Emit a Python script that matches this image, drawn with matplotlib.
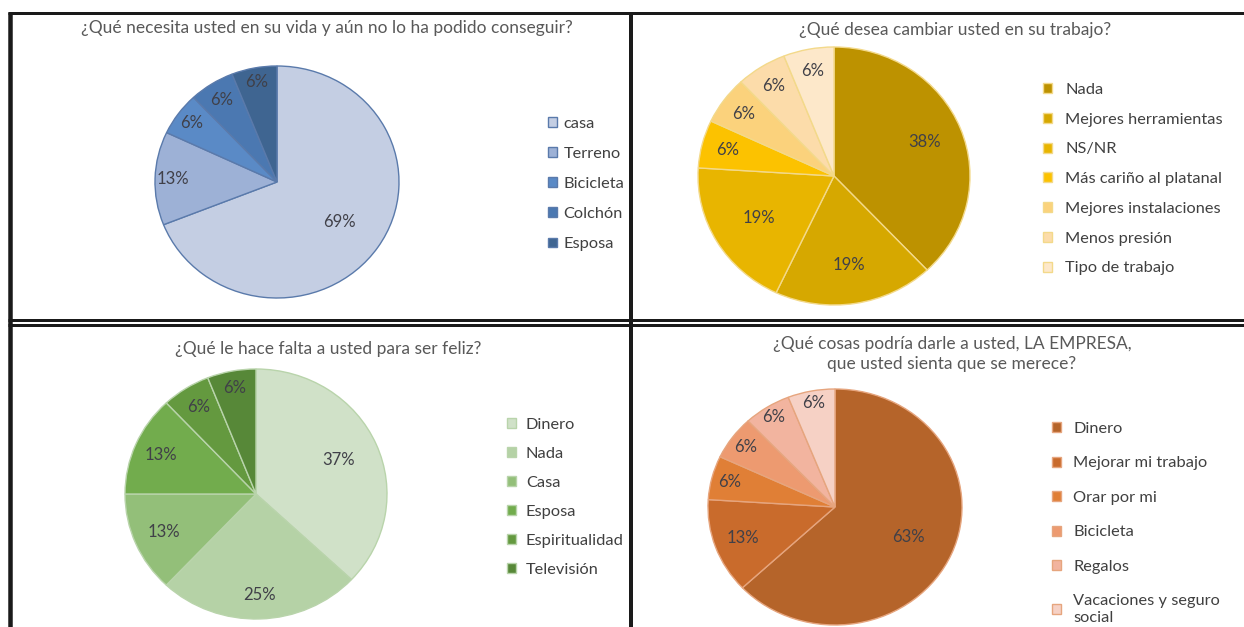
import numpy as np
import matplotlib
matplotlib.use('Agg')
import matplotlib.pyplot as plt
from matplotlib.lines import Line2D

plt.rcParams['font.family'] = ['Lato', 'DejaVu Sans']

W, H = 1244, 627

# --- data (percent of answers) ---
tl_title = "¿Qué necesita usted en su vida y aún no lo ha podido conseguir?"
tl_labels = ["casa", "Terreno", "Bicicleta", "Colchón", "Esposa"]
tl_values = [69, 13, 6, 6, 6]

tr_title = "¿Qué desea cambiar usted en su trabajo?"
tr_labels = ["Nada", "Mejores herramientas", "NS/NR", "Más cariño al platanal",
             "Mejores instalaciones", "Menos presión", "Tipo de trabajo"]
tr_values = [38, 19, 19, 6, 6, 6, 6]

bl_title = "¿Qué le hace falta a usted para ser feliz?"
bl_labels = ["Dinero", "Nada", "Casa", "Esposa", "Espiritualidad", "Televisión"]
bl_values = [37, 25, 13, 13, 6, 6]

br_title = "¿Qué cosas podría darle a usted, LA EMPRESA,\nque usted sienta que se merece?"
br_labels = ["Dinero", "Mejorar mi trabajo", "Orar por mi", "Bicicleta",
             "Regalos", "Vacaciones y seguro\nsocial"]
br_values = [63, 13, 6, 6, 6, 6]

# --- styles ---
tl_colors = ['#c4cee3', '#9db1d6', '#5a8ac6', '#4b78b1', '#3f6591']
tr_colors = ['#bd9200', '#d6a800', '#e8b500', '#fcc200', '#fbd27c', '#fcdcaa', '#fde8ca']
bl_colors = ['#d0e1c8', '#b5d2a6', '#93bf79', '#72ac4d', '#64993f', '#578838']
br_colors = ['#b5642a', '#c96b2c', '#e07f36', '#ed9a70', '#f2b49f', '#f6d1c5']

# distance of the % label from the centre (fraction of radius)
tl_lab_r = [0.62, 0.85, 0.87, 0.84, 0.88]
tr_lab_r = [0.72, 0.70, 0.64, 0.81, 0.82, 0.83, 0.83]
bl_lab_r = [0.69, 0.81, 0.77, 0.79, 0.82, 0.86]
br_lab_r = [0.63, 0.77, 0.86, 0.87, 0.90, 0.90]


def fx(x):
    return x / W


def fy(y):
    return 1 - y / H


fig = plt.figure(figsize=(W / 100, H / 100), dpi=100)


def draw_pie(title, title_xy, labels, values, colors, edge, center, radii,
             lab_r, leg_xy, leg_pad, leg_space):
    cx, cy = center
    rx, ry = radii
    ax = fig.add_axes([fx(cx - rx), fy(cy + ry), 2 * rx / W, 2 * ry / H])
    wedges, _ = ax.pie(values, colors=colors, startangle=90, counterclock=False,
                       wedgeprops=dict(edgecolor=edge, linewidth=1.0))
    ax.set_aspect('auto')
    ax.set_xlim(-1, 1)
    ax.set_ylim(-1, 1)
    for w in wedges:
        w.set_clip_on(False)
    for w, v, r in zip(wedges, values, lab_r):
        a = np.radians((w.theta1 + w.theta2) / 2)
        ax.text(r * np.cos(a), r * np.sin(a), str(v) + '%', ha='center', va='center',
                fontsize=12, color='#404048')
    fig.text(fx(title_xy[0]), fy(title_xy[1]), title, ha='center', va='center',
             fontsize=12.5, color='#595959', linespacing=1.25)
    ax.legend(wedges, labels, loc='upper left',
              bbox_to_anchor=(fx(leg_xy[0]), fy(leg_xy[1])),
              bbox_transform=fig.transFigure, frameon=False, fontsize=11.8,
              handlelength=0.55, handleheight=0.55, handletextpad=leg_pad,
              labelspacing=leg_space, borderpad=0, borderaxespad=0,
              labelcolor='#404040')


draw_pie(tl_title, (327, 28), tl_labels, tl_values, tl_colors, '#5a7aab',
         (277, 182), (122, 116), tl_lab_r, (548, 117), 0.4, 0.98)
draw_pie(tr_title, (955, 30), tr_labels, tr_values, tr_colors, '#f3d98a',
         (834, 176), (136, 129), tr_lab_r, (1043, 83), 0.8, 0.96)
draw_pie(bl_title, (328, 349), bl_labels, bl_values, bl_colors, '#b9d4ab',
         (256, 494), (131, 125), bl_lab_r, (507, 418), 0.6, 0.91)
draw_pie(br_title, (952, 354), br_labels, br_values, br_colors, '#e6a57e',
         (835, 507), (127, 118), br_lab_r, (1052, 422), 0.75, 1.25)

# table borders around the four charts
borders = [((8, 1244), (13, 13), 3), ((10, 10), (12, 627), 4.5),
           ((631, 631), (12, 627), 4), ((8, 1244), (320, 320), 3),
           ((8, 1244), (324.5, 324.5), 3)]
for xs, ys, lw in borders:
    fig.add_artist(Line2D([fx(x) for x in xs], [fy(y) for y in ys],
                          transform=fig.transFigure, color='#1a1a1a',
                          linewidth=lw * 0.72, solid_capstyle='butt'))

plt.savefig('out.png', dpi=100)
plt.close()
